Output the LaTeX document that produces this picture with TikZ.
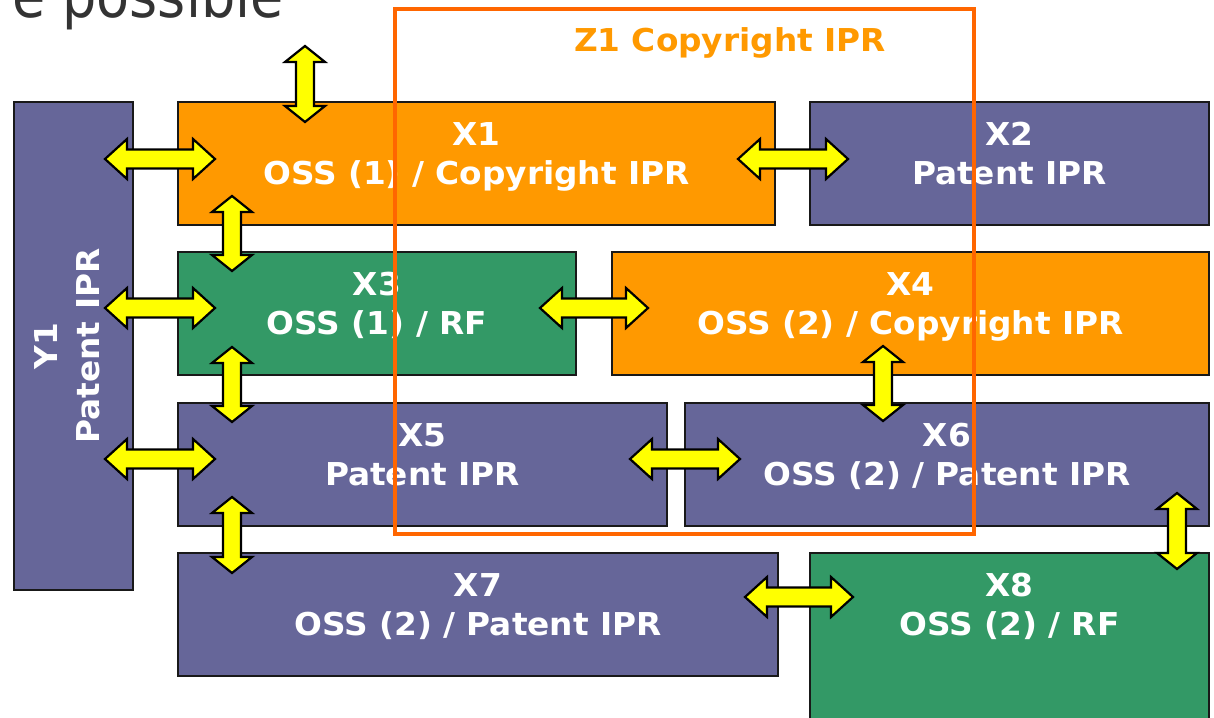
\documentclass[tikz,border=0pt]{standalone}
\usepackage{fontspec}
\setmainfont{DejaVu Sans}
\newfontfamily\boxfont[FakeStretch=1.04]{DejaVu Sans}
\newfontfamily\headfont[FakeStretch=0.9]{DejaVu Sans}
\usetikzlibrary{calc}

\definecolor{iprpurple}{HTML}{666699}
\definecolor{ossorange}{HTML}{FF9900}
\definecolor{rfgreen}{HTML}{339966}
\definecolor{zoneorange}{HTML}{FF6600}
\definecolor{headgray}{HTML}{333333}
\definecolor{linkyellow}{HTML}{FFFF00}

\tikzset{
  box/.style={draw=black!90, line width=2pt, inner sep=0pt, outer sep=0pt, anchor=north west},
  patentbox/.style={box, fill=iprpurple},
  ossbox/.style={box, fill=ossorange},
  rfbox/.style={box, fill=rfgreen},
  lbl/.style={text=white, font=\boxfont\bfseries\fontsize{31.5}{38}\selectfont, anchor=base, inner sep=0pt},
  link/.style={draw=black, fill=linkyellow, line width=2.2pt, line join=miter},
  zone/.style={draw=zoneorange, line width=4pt},
}

% double-headed block arrow between two named points, horizontal
\newcommand\linkH[2]{%
  \draw[link] (#1) -- ($(#1)+(22,-20)$) -- ($(#1)+(22,-9.5)$) -- ($(#2)+(-22,-9.5)$)
    -- ($(#2)+(-22,-20)$) -- (#2) -- ($(#2)+(-22,20)$) -- ($(#2)+(-22,9.5)$)
    -- ($(#1)+(22,9.5)$) -- ($(#1)+(22,20)$) -- cycle;}
% double-headed block arrow between two named points, vertical
\newcommand\linkV[2]{%
  \draw[link] (#1) -- ($(#1)+(20,16)$) -- ($(#1)+(9,16)$) -- ($(#2)+(9,-16)$)
    -- ($(#2)+(20,-16)$) -- (#2) -- ($(#2)+(-20,-16)$) -- ($(#2)+(-9,-16)$)
    -- ($(#1)+(-9,16)$) -- ($(#1)+(-20,16)$) -- cycle;}

\begin{document}
\begin{tikzpicture}[x=1pt,y=-1pt]
\useasboundingbox (0,0) rectangle (1214,717);
\clip (0,0) rectangle (1214,717);

% heading fragment
\node[anchor=base west, inner sep=0pt, text=headgray,
      font=\headfont\fontsize{60}{72}\selectfont] (head) at (12,18) {e possible};

% boxes
\node[patentbox, minimum width=119pt, minimum height=488pt] (y1) at (14,102) {};
\node[ossbox,    minimum width=597pt, minimum height=123pt] (x1) at (178,102) {};
\node[patentbox, minimum width=399pt, minimum height=123pt] (x2) at (810,102) {};
\node[rfbox,     minimum width=398pt, minimum height=123pt] (x3) at (178,252) {};
\node[ossbox,    minimum width=597pt, minimum height=123pt] (x4) at (612,252) {};
\node[patentbox, minimum width=489pt, minimum height=123pt] (x5) at (178,403) {};
\node[patentbox, minimum width=524pt, minimum height=123pt] (x6) at (685,403) {};
\node[patentbox, minimum width=600pt, minimum height=123pt] (x7) at (178,553) {};
\node[rfbox,     minimum width=399pt, minimum height=200pt] (x8) at (810,553) {};

% box labels
\node[lbl, rotate=90] (y1a) at (57,346) {Y1};
\node[lbl, rotate=90] (y1b) at (99,346) {Patent IPR};
\node[lbl] (x1a) at ($(x1.north)+(0,43)$) {X1};
\node[lbl] (x1b) at ($(x1.north)+(0,82)$) {OSS (1) / Copyright IPR};
\node[lbl] (x2a) at ($(x2.north)+(0,43)$) {X2};
\node[lbl] (x2b) at ($(x2.north)+(0,82)$) {Patent IPR};
\node[lbl] (x3a) at ($(x3.north)+(0,43)$) {X3};
\node[lbl] (x3b) at ($(x3.north)+(0,82)$) {OSS (1) / RF};
\node[lbl] (x4a) at ($(x4.north)+(0,43)$) {X4};
\node[lbl] (x4b) at ($(x4.north)+(0,82)$) {OSS (2) / Copyright IPR};
\node[lbl] (x5a) at ($(x5.north)+(0,43)$) {X5};
\node[lbl] (x5b) at ($(x5.north)+(0,82)$) {Patent IPR};
\node[lbl] (x6a) at ($(x6.north)+(0,43)$) {X6};
\node[lbl] (x6b) at ($(x6.north)+(0,82)$) {OSS (2) / Patent IPR};
\node[lbl] (x7a) at ($(x7.north)+(0,43)$) {X7};
\node[lbl] (x7b) at ($(x7.north)+(0,82)$) {OSS (2) / Patent IPR};
\node[lbl] (x8a) at ($(x8.north)+(0,43)$) {X8};
\node[lbl] (x8b) at ($(x8.north)+(0,82)$) {OSS (2) / RF};

% link end points
\coordinate (h1a) at (105,159); \coordinate (h1b) at (215,159);
\coordinate (h2a) at (105,308); \coordinate (h2b) at (215,308);
\coordinate (h3a) at (105,459); \coordinate (h3b) at (215,459);
\coordinate (h4a) at (738,159); \coordinate (h4b) at (848,159);
\coordinate (h5a) at (540,308); \coordinate (h5b) at (648,308);
\coordinate (h6a) at (630,459); \coordinate (h6b) at (740,459);
\coordinate (h7a) at (745,597); \coordinate (h7b) at (853,597);
\coordinate (v1a) at (305,46);  \coordinate (v1b) at (305,122);
\coordinate (v2a) at (232,196); \coordinate (v2b) at (232,271);
\coordinate (v3a) at (232,347); \coordinate (v3b) at (232,422);
\coordinate (v4a) at (232,497); \coordinate (v4b) at (232,573);
\coordinate (v5a) at (883,346); \coordinate (v5b) at (883,421);
\coordinate (v6a) at (1177,493); \coordinate (v6b) at (1177,569);

% links
\linkH{h1a}{h1b} \linkH{h2a}{h2b} \linkH{h3a}{h3b} \linkH{h4a}{h4b}
\linkH{h5a}{h5b} \linkH{h6a}{h6b} \linkH{h7a}{h7b}
\linkV{v1a}{v1b} \linkV{v2a}{v2b} \linkV{v3a}{v3b} \linkV{v4a}{v4b}
\linkV{v5a}{v5b} \linkV{v6a}{v6b}

% copyright zone
\draw[zone] (395,9.5) rectangle (974,534);
\node[anchor=base, inner sep=0pt, text=ossorange,
      font=\boxfont\bfseries\fontsize{31.5}{38}\selectfont] (z1) at (730,52) {Z1 Copyright IPR};
\end{tikzpicture}
\end{document}
